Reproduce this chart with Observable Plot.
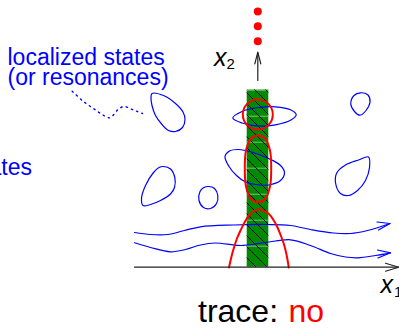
<!DOCTYPE html>
<html>
<head>
<meta charset="utf-8">
<script src="https://cdn.jsdelivr.net/npm/d3@7"></script>
<script src="https://cdn.jsdelivr.net/npm/@observablehq/plot@0.6"></script>
<style>
  html, body { margin: 0; padding: 0; background: #fff; overflow: hidden; }
  #chart svg { display: block; }
</style>
</head>
<body>
<div id="chart"></div>
<script>
// ---- diagram data (diagram units = picture pixels, y downward) ----
const loopA = [[151.5,93],[163,95],[175,103],[182.5,111.5],[184.5,119],[182,127],[175,131],[168,130],[161.5,124],[155,115],[151.5,105],[150.5,97]];
const loopB = [[163,166],[170,168.5],[174.3,177],[174,187],[170,193.5],[160,200],[150,204],[142.5,205],[141,198],[145,185],[153,172],[158.5,167]];
const loopC = [[208,186],[214,188],[217.3,195],[216,203],[210,208],[203,207],[198.5,200],[199.5,191],[203,187.3]];
const loopD = [[353.5,95],[360,92.3],[367.5,94.5],[369.5,101.5],[365.5,110],[359.5,114.7],[354,111],[350.3,103.5]];
const loopE = [[368,156.5],[369,167],[365,180],[357,190],[348,195],[340,193],[335,182],[336.5,172],[345,164.5],[358,159.5]];
const loopF = [[232.3,117.5],[241.5,111],[258,107],[275,106.3],[290,109.3],[295.7,114.3],[290,119.8],[275,124.3],[258,125.5],[241.5,122.5]];
const loopG = [[224.5,156],[229,150.5],[238,149],[251,151.5],[268,158],[280,165],[284,172],[280,180],[268,184.5],[255,184],[245,181.5],[236,175],[228.5,166]];

const upperWave = [[134,232],[150,234],[167,234],[184,230],[200,226.3],[233,224.5],[267,224],[290,225],[310,229],[333,232.5],[350,233],[367,230],[389.5,223]];
const lowerWave = [[134,242.3],[150,247],[170,251.3],[185,249],[200,244.5],[215,242.5],[240,245],[265,242],[290,239.3],[310,245],[330,253],[345,256.5],[357,257.3],[375,255],[390,252.3]];
const upperHead = [[376.5,221.5],[389.5,223],[378,229.5]];
const lowerHead = [[377,249.5],[390,252.3],[377.5,257.5]];

const dottedLink = [[71.7,90.7],[81.7,100],[93.3,108.3],[103.3,115],[109.3,117.3],[113.3,114],[118.3,108.3],[124,106],[130,108.3],[136,110.7],[142,113]];

const redEllipse = [[257.5,135],[264.5,138],[269.5,150],[270.7,168],[269.5,186],[264.5,198.5],[257.5,201.7],[250.5,198.5],[245.5,186],[244.3,168],[245.5,150],[250.5,138]];
const redBell = [[228.5,267],[231,256],[233.5,247],[236.5,238],[240,230],[244,222],[248.5,215],[253,211],[258.3,209],[263.5,210.5],[268.5,213.5],[273,219.5],[277,227],[280.5,235.5],[283.5,244],[286,254],[288.3,267]];
const redCircle = [[257.3,114]];
const redDots = [[257.3,11],[257.3,25.7],[257.3,40.7]];

const bar = [{x1:246.7, x2:268.3, y1:89.5, y2:266.7}];
const barBands = [89.7,115.7,141.7,167.7,193.7,219.7,245.7];

const axis1 = [[134,266.7],[398,266.7]];
const axis1Head = [[385,262.7],[398.3,266.7],[385,270.7]];
const axis2 = [[257.3,80],[257.3,52.5]];
const axis2Head = [[254.3,63.3],[257.3,51.7],[260.3,63.3]];

const labelLocalized = "localized states\n(or resonances)";
const labelStates = "states";
const labelTrace = "trace:";
const labelAnswer = "no";

// ---- helpers ----
const tag = (pts, id) => pts.map(([x, y]) => ({x, y, id}));
const blueLoops = [
  ...tag(loopA,"A"), ...tag(loopB,"B"), ...tag(loopC,"C"), ...tag(loopD,"D"),
  ...tag(loopE,"E"), ...tag(loopF,"F"), ...tag(loopG,"G")
];
const waves = [...tag(upperWave,"u"), ...tag(lowerWave,"l")];
const heads = [...tag(upperHead,"u"), ...tag(lowerHead,"l")];
const axisLines = [...tag(axis1,"a1"), ...tag(axis1Head,"h1"), ...tag(axis2,"a2"), ...tag(axis2Head,"h2")];

const BLUE = "#0000ff", RED = "#ff0000", GREEN = "#008a00";
const FONT = "'Liberation Sans', Arial, Helvetica, sans-serif";
const W = 399, H = 328;

const chart = Plot.plot({
  width: W, height: H, margin: 0,
  x: {domain: [0, W], range: [0, W], axis: null},
  y: {domain: [0, H], range: [0, H], axis: null},
  style: {fontFamily: FONT, background: "white"},
  marks: [
    Plot.rect(bar, {x1: "x1", x2: "x2", y1: "y1", y2: "y2", fill: GREEN}),
    Plot.ruleY(barBands, {x1: bar[0].x1, x2: bar[0].x2, stroke: "#d8f0d8", strokeOpacity: 0.55, strokeWidth: 1}),
    Plot.rect(bar, {x1: "x1", x2: "x2", y1: "y1", y2: "y2", fill: "url(#hatch)"}),
    Plot.line(blueLoops, {x: "x", y: "y", z: "id", curve: "catmull-rom-closed", stroke: BLUE, strokeWidth: 1.2}),
    Plot.line(waves, {x: "x", y: "y", z: "id", curve: "catmull-rom", stroke: BLUE, strokeWidth: 1.2}),
    Plot.line(heads, {x: "x", y: "y", z: "id", stroke: BLUE, strokeWidth: 1.2}),
    Plot.line(tag(dottedLink,"d"), {x: "x", y: "y", curve: "catmull-rom", stroke: BLUE, strokeWidth: 1.4, strokeDasharray: "1.4 4.2"}),
    Plot.line(tag(redEllipse,"e"), {x: "x", y: "y", curve: "catmull-rom-closed", stroke: RED, strokeWidth: 2}),
    Plot.line(tag(redBell,"b"), {x: "x", y: "y", curve: "catmull-rom", stroke: RED, strokeWidth: 2}),
    Plot.dot(redCircle, {x: d => d[0], y: d => d[1], r: 15, fill: "none", stroke: RED, strokeWidth: 2}),
    Plot.line(axisLines, {x: "x", y: "y", z: "id", stroke: "#222", strokeWidth: 1.2}),
    Plot.dot(redDots, {x: d => d[0], y: d => d[1], r: 4, fill: RED, stroke: "none"}),
    Plot.text([labelLocalized], {x: 7, y: 84.5, text: d => d, textAnchor: "start", lineAnchor: "bottom", lineHeight: 0.87, fontSize: 23, fill: BLUE}),
    Plot.text([labelStates], {x: 31.5, y: 174, text: d => d, textAnchor: "end", lineAnchor: "bottom", fontSize: 23, fill: BLUE}),
    Plot.text(["x"], {x: 213.5, y: 65, text: d => d, textAnchor: "start", lineAnchor: "bottom", fontSize: 25, fontStyle: "italic", fill: "#000"}),
    Plot.text(["2"], {x: 226, y: 68.5, text: d => d, textAnchor: "start", lineAnchor: "bottom", fontSize: 15, fill: "#000"}),
    Plot.text(["x"], {x: 380, y: 292.5, text: d => d, textAnchor: "start", lineAnchor: "bottom", fontSize: 25, fontStyle: "italic", fill: "#000"}),
    Plot.text(["1"], {x: 393.5, y: 296, text: d => d, textAnchor: "start", lineAnchor: "bottom", fontSize: 15, fill: "#000"}),
    Plot.text([labelTrace], {x: 197.5, y: 321, text: d => d, textAnchor: "start", lineAnchor: "bottom", fontSize: 32, fill: "#000"}),
    Plot.text([labelAnswer], {x: 288, y: 321, text: d => d, textAnchor: "start", lineAnchor: "bottom", fontSize: 32, fill: RED})
  ]
});

// hatch pattern for the green strip
const defs = d3.select(chart).insert("defs", ":first-child");
const pat = defs.append("pattern")
  .attr("id", "hatch").attr("patternUnits", "userSpaceOnUse")
  .attr("width", 11).attr("height", 11);
pat.append("path")
  .attr("d", "M-1,-1L12,12M-1,10L1,12M10,-1L12,1")
  .attr("stroke", "#000").attr("stroke-width", 1).attr("fill", "none");

document.getElementById("chart").appendChild(chart);
</script>
</body>
</html>
